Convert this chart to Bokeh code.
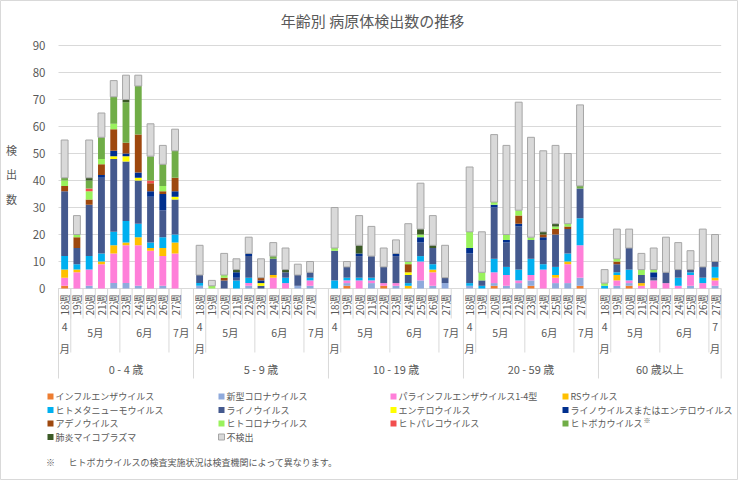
import math
from bokeh.plotting import figure
from bokeh.models import ColumnDataSource, Range1d
from bokeh.core.properties import value
from bokeh.embed import file_html
from bokeh.resources import INLINE

# ---------------- data ----------------
title = "年齢別 病原体検出数の推移"
y_label = "検\n出\n数"
groups = ["0 - 4 歳", "5 - 9 歳", "10 - 19 歳", "20 - 59 歳", "60 歳以上"]
weeks = ["18週", "19週", "20週", "21週", "22週", "23週", "24週", "25週", "26週", "27週"]
months = ["4月", "5月", "6月", "7月"]
month_weeks = [["18週"], ["19週", "20週", "21週", "22週"], ["23週", "24週", "25週", "26週"], ["27週"]]
y_ticks = [0, 10, 20, 30, 40, 50, 60, 70, 80, 90]

series_names = ["インフルエンザウイルス", "新型コロナウイルス", "パラインフルエンザウイルス1-4型", "RSウイルス",
                "ヒトメタニューモウイルス", "ライノウイルス", "エンテロウイルス", "ライノウイルスまたはエンテロウイルス",
                "アデノウイルス", "ヒトコロナウイルス", "ヒトパレコウイルス", "ヒトボカウイルス",
                "肺炎マイコプラズマ", "不検出"]
series_keys = ["flu", "covid", "para", "rs", "hmpv", "rhino", "entero", "rhino_entero",
               "adeno", "hcov", "parecho", "boca", "myco", "none"]
colors = ["#ED7D31", "#8FAADC", "#FF7FD9", "#FFC000", "#00B0F0", "#44598E", "#FFFF00", "#002F8E",
          "#9E480E", "#99F25C", "#F24E4E", "#70AD47", "#3B5A26", "#D9D9D9"]
footnote = "ヒトボカウイルスの検査実施状況は検査機関によって異なります。"

# values: 5 groups x 10 weeks (18週..27週)
flu          = [1,0,0,0,0,0,0,0,0,0,  0,0,0,0,0,0,0,0,0,0,  0,1,0,0,1,0,0,0,0,0,  0,0,1,0,0,1,0,0,0,1,  0,0,1,0,0,0,0,0,0,0]
covid        = [0,0,1,0,2,2,1,0,1,0,  1,0,0,0,1,0,0,0,1,1,  0,1,0,2,0,1,0,3,1,2,  1,0,1,1,2,2,0,2,2,3,  0,1,1,0,0,0,0,1,0,1]
para         = [3,6,6,9,11,14,15,14,11,13,  0,0,0,0,1,0,4,2,0,2,  0,1,3,1,1,1,0,7,5,0,  0,0,4,4,1,2,7,2,7,12,  0,2,1,1,3,2,1,4,2,2]
rs           = [3,1,0,1,3,1,3,1,3,4,  0,0,0,0,0,0,1,0,0,0,  0,0,0,0,0,0,1,0,1,0,  0,0,0,0,0,0,0,1,1,0,  0,2,0,1,0,0,0,0,0,1]
hmpv         = [5,2,5,3,5,8,5,2,4,3,  1,0,0,3,2,0,0,2,0,1,  3,1,1,1,0,0,1,2,2,0,  1,1,5,3,4,6,2,3,3,10,  1,1,4,0,0,0,3,1,2,4]
rhino        = [24,6,19,28,27,22,16,17,10,13,  3,0,3,1,8,1,6,2,4,2,  11,4,8,8,6,10,3,5,6,2,  11,2,19,9,16,7,9,12,9,11,  0,3,8,3,1,4,3,1,4,2]
entero       = [0,0,0,0,1,2,1,0,0,1,  0,0,0,0,0,1,0,0,0,0,  0,0,0,0,0,0,1,0,0,0,  0,0,0,0,0,0,0,0,0,0,  0,0,0,0,0,0,0,0,0,0]
rhino_entero = [0,0,0,1,2,1,2,2,6,2,  0,0,0,2,1,1,0,0,0,0,  0,0,1,0,0,1,0,2,0,0,  2,0,1,1,1,0,1,0,0,0,  0,0,0,0,2,0,0,0,0,0]
adeno        = [2,4,2,4,8,4,14,3,1,5,  0,0,1,0,0,1,0,0,0,0,  0,0,0,0,0,0,3,0,0,0,  0,0,0,0,3,0,1,2,1,0,  0,1,0,0,0,0,0,0,0,0]
hcov         = [2,1,3,2,2,0,0,0,2,0,  0,1,1,0,0,0,0,0,0,0,  1,0,0,0,0,0,1,1,0,0,  6,3,1,2,2,1,0,1,1,0,  1,1,0,2,1,0,0,0,0,0]
parecho      = [0,0,1,0,0,0,0,1,0,0,  0,0,0,0,0,0,0,0,0,0,  0,0,0,0,0,0,0,0,0,0,  0,0,0,0,0,0,0,0,0,0,  0,0,0,0,0,0,0,0,0,0]
boca         = [1,0,3,8,10,15,18,9,8,10,  0,0,0,0,0,0,1,0,0,0,  0,0,0,0,0,0,0,0,0,0,  0,0,0,0,0,0,0,0,0,1,  0,0,0,0,0,0,0,0,0,0]
myco         = [0,0,1,0,0,1,0,0,0,0,  0,0,0,1,0,0,0,1,0,0,  0,0,3,0,0,0,0,2,1,0,  0,0,0,0,0,0,1,1,0,0,  0,0,0,0,0,0,0,0,0,0]
none_found   = [14,7,14,9,6,9,4,12,7,8,  11,2,8,4,6,7,5,8,4,4,  15,2,11,11,7,5,14,17,11,12,  24,15,25,33,40,37,30,29,26,30,  5,11,7,6,8,13,10,7,14,10]

series_values = [flu, covid, para, rs, hmpv, rhino, entero, rhino_entero,
                 adeno, hcov, parecho, boca, myco, none_found]

# ---------------- layout ----------------
W, H = 738, 480
SLOT = 12.272           # px per category slot
YPX = 2.7               # px per unit
FRAME_LEFT = 58         # px of value-axis origin from canvas left
ZERO_Y = 288            # px of value 0 from canvas top

def X(px):   # canvas px -> data x
    return (px - FRAME_LEFT) / SLOT

def Y(py):   # canvas px -> data y
    return (ZERO_Y - py) / YPX

FONT = value("Noto Sans CJK JP")
TXT = "#595959"
LINE = "#D9D9D9"

x_start = -FRAME_LEFT / SLOT
y_end = ZERO_Y / YPX
p = figure(width=W, height=H, output_backend="svg", toolbar_location=None,
           x_range=Range1d(x_start, x_start + W / SLOT),
           y_range=Range1d(y_end - H / YPX, y_end),
           x_axis_type=None, y_axis_type=None, min_border=0)
p.outline_line_color = "#D9D9D9"
p.background_fill_color = "white"
p.border_fill_color = "white"

# slots: each group has its weeks + one blank slot (except the last group)
group_slots = [len(weeks) + 1] * (len(groups) - 1) + [len(weeks)]
group_start = [sum(group_slots[:i]) for i in range(len(groups))]
n_slots = sum(group_slots)

xs = [group_start[g] + w + 0.5 for g in range(len(groups)) for w in range(len(weeks))]
data = {"x": xs}
for k, v in zip(series_keys, series_values):
    data[k] = v
src = ColumnDataSource(data)

# gridlines
p.segment(x0=[0] * len(y_ticks), x1=[n_slots] * len(y_ticks), y0=y_ticks, y1=y_ticks,
          line_color=LINE, line_width=1)

line_colors = [None] * (len(series_keys) - 1) + ["#A6A6A6"]
p.vbar_stack(series_keys, x="x", width=0.56, source=src, color=colors,
             line_color=line_colors, line_width=1)

# category separators
wk_x = list(range(n_slots + 1))
p.segment(x0=wk_x, x1=wk_x, y0=[0] * len(wk_x), y1=[Y(318)] * len(wk_x), line_color=LINE)
mon_x, mon_lbl_x, mon_lbl = [], [], []
for g in range(len(groups)):
    pos = group_start[g]
    for m, wl in enumerate(month_weeks):
        n = len(wl)
        end = pos + n
        if m == len(month_weeks) - 1:
            end = group_start[g] + group_slots[g]
        mon_x.append(pos)
        mon_lbl_x.append((pos + end) / 2)
        lbl = months[m]
        if end - pos <= 1:
            lbl = "\n".join(lbl)
        mon_lbl.append(lbl)
        pos = end
p.segment(x0=mon_x, x1=mon_x, y0=[0] * len(mon_x), y1=[Y(352)] * len(mon_x), line_color=LINE)
grp_x = group_start + [n_slots]
p.segment(x0=grp_x, x1=grp_x, y0=[0] * len(grp_x), y1=[Y(378)] * len(grp_x), line_color=LINE)

# week labels (rotated)
p.text(x=xs, y=[Y(294)] * len(xs), text=[w for g in groups for w in weeks],
       angle=math.pi / 2, text_align="right", text_baseline="middle",
       text_font=FONT, text_font_size="10px", text_color=TXT)
# month labels
single = [i for i, l in enumerate(mon_lbl) if "\n" not in l]
multi = [i for i, l in enumerate(mon_lbl) if "\n" in l]
p.text(x=[mon_lbl_x[i] for i in single], y=[Y(332)] * len(single), text=[mon_lbl[i] for i in single],
       text_align="center", text_baseline="middle", text_font=FONT, text_font_size="10.5px", text_color=TXT)
p.text(x=[mon_lbl_x[i] for i in multi], y=[Y(337)] * len(multi), text=[mon_lbl[i] for i in multi],
       text_align="center", text_baseline="middle", text_font=FONT, text_font_size="10.5px",
       text_line_height=1.45, text_color=TXT)
# group labels
p.text(x=[group_start[g] + group_slots[g] / 2 for g in range(len(groups))], y=[Y(368)] * len(groups),
       text=groups, text_align="center", text_baseline="middle", text_font=FONT,
       text_font_size="11px", text_color=TXT)

# y tick labels
p.text(x=[X(45)] * len(y_ticks), y=y_ticks, text=[str(t) for t in y_ticks],
       text_align="right", text_baseline="middle", text_font=FONT, text_font_size="11.5px", text_color=TXT)
# y axis title
p.text(x=[X(11)], y=[Y(174)], text=[y_label], text_align="center", text_baseline="middle",
       text_font=FONT, text_font_size="11px", text_line_height=1.55, text_color=TXT)
# chart title
p.text(x=[X(372)], y=[Y(20)], text=[title], text_align="center", text_baseline="middle",
       text_font=FONT, text_font_size="15px", text_color=TXT)

# legend (4 columns)
col_px = [50, 221, 393, 565]
row_py = [396, 409.5, 423, 436.5]
lx, ly, ltx, lty = [], [], [], []
for i, name in enumerate(series_names):
    r, c = divmod(i, 4)
    lx.append(X(col_px[c]))
    ly.append(Y(row_py[r]))
    ltx.append(X(col_px[c] + 5))
    lty.append(Y(row_py[r]))
p.scatter(x=lx, y=ly, marker="square", size=6, fill_color=colors,
          line_color=["rgba(0,0,0,0)"] * (len(colors) - 1) + ["#A6A6A6"])
p.text(x=ltx, y=lty, text=series_names, text_align="left", text_baseline="middle",
       text_font=FONT, text_font_size="9px", text_color=TXT)
# superscript mark on ヒトボカウイルス
bi = series_keys.index("boca")
br, bc = divmod(bi, 4)
p.text(x=[X(col_px[bc] + 5 + 9 * len(series_names[bi]) + 1)], y=[Y(row_py[br] - 4)], text=["※"],
       text_align="left", text_baseline="middle", text_font=FONT, text_font_size="7px", text_color=TXT)

# footnote
p.text(x=[X(50)], y=[Y(462)], text=["※"], text_align="center", text_baseline="middle",
       text_font=FONT, text_font_size="9px", text_color=TXT)
p.text(x=[X(68)], y=[Y(462)], text=[footnote], text_align="left", text_baseline="middle",
       text_font=FONT, text_font_size="9px", text_color=TXT)

open("out.html", "w").write(file_html(p, INLINE))
